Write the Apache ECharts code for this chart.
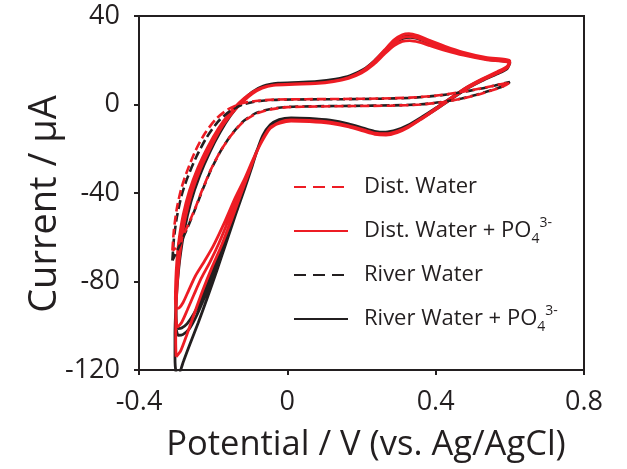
<!DOCTYPE html>
<html><head><meta charset="utf-8">
<script src="https://cdn.jsdelivr.net/npm/echarts@6/dist/echarts.min.js"></script>
<style>html,body{margin:0;padding:0;background:#fff}#c{width:627px;height:469px}</style>
</head><body><div id="c"></div>
<script>
// ---- tick labels / names ----
const xTickLabels = ['-0.4', '0', '0.4', '0.8'];
const yTickLabels = ['-120', '-80', '-40', '0', '40'];
const xAxisTitle = 'Potential / V (vs. Ag/AgCl)';
const yAxisTitle = 'Current / \u03bcA';
const legendOrder = ['Dist. Water', 'Dist. Water + PO4', 'River Water', 'River Water + PO4'];

// ---- Dist. Water + PO4 (red solid), three scans [potential V, current uA] ----
const distPO4Scan1 = [
  [-0.300,-114],[-0.301,-107],[-0.301,-98],[-0.299,-88],[-0.295,-77],[-0.288,-65],[-0.276,-52],[-0.258,-40],[-0.234,-29],[-0.207,-19.5],[-0.180,-11],[-0.153,-4.5],[-0.126,0.6],[-0.100,4.6],[-0.072,7.3],[-0.035,8.8],[0.020,9.2],[0.075,9.5],[0.125,10.5],[0.165,12.2],[0.200,14.9],[0.232,19.2],[0.262,24.6],[0.288,29.2],[0.310,31.5],[0.328,32],[0.352,31.1],[0.385,28.9],[0.425,26.3],[0.475,23.6],[0.535,21.3],[0.600,19.7],
  [0.593,17.3],[0.566,14.8],[0.526,11.6],[0.486,8.0],[0.446,3.5],[0.406,-1.1],[0.366,-5.7],[0.326,-9.9],[0.296,-12.1],[0.266,-13.2],[0.236,-12.9],[0.206,-11.5],[0.166,-9.6],[0.116,-8.0],[0.060,-7.2],[0.010,-7.0],[-0.020,-7.9],
  [-0.045,-10.5],[-0.068,-16.5],[-0.090,-24],[-0.110,-32],[-0.132,-41],[-0.158,-52],[-0.184,-62.5],[-0.208,-71],[-0.232,-78.5],[-0.252,-86],[-0.270,-93],[-0.285,-98.5],[-0.296,-100.5]
];
const distPO4Scan2 = [
  [-0.300,-97],[-0.301,-89],[-0.299,-80],[-0.294,-70],[-0.285,-59],[-0.271,-47],[-0.252,-36],[-0.228,-26],[-0.201,-17],[-0.174,-9.5],[-0.147,-3.5],[-0.120,1.2],[-0.094,4.9],[-0.068,7.4],[-0.032,8.9],[0.020,9.3],[0.075,9.6],[0.125,10.6],[0.165,12.2],[0.200,14.7],[0.232,18.7],[0.262,23.8],[0.288,28],[0.310,30.2],[0.330,30.7],[0.354,29.9],[0.385,27.9],[0.425,25.5],[0.475,23.0],[0.535,20.8],[0.600,19.2],
  [0.593,16.9],[0.566,14.4],[0.526,11.3],[0.486,7.7],[0.446,3.2],[0.406,-1.4],[0.366,-5.9],[0.326,-10.2],[0.296,-12.5],[0.266,-13.6],[0.236,-13.3],[0.206,-11.9],[0.166,-9.9],[0.116,-8.3],[0.060,-7.5],[0.010,-7.3],[-0.020,-8.2],
  [-0.046,-10.8],[-0.070,-17],[-0.093,-25],[-0.115,-33.5],[-0.140,-42],[-0.170,-53.5],[-0.200,-64],[-0.226,-71.5],[-0.248,-77.5],[-0.266,-84],[-0.281,-89.5],[-0.292,-92],[-0.299,-92.2]
];
const distPO4Scan3 = [
  [-0.302,-88],[-0.301,-80],[-0.298,-71],[-0.292,-61],[-0.281,-50],[-0.264,-39],[-0.241,-28.5],[-0.214,-19],[-0.186,-10.8],[-0.158,-4.3],[-0.130,0.8],[-0.103,4.6],[-0.075,7.2],[-0.038,8.7],[0.020,9.1],[0.075,9.4],[0.125,10.3],[0.165,11.8],[0.200,14.2],[0.232,18],[0.262,22.8],[0.288,26.6],[0.310,28.5],[0.330,28.9],[0.355,28.2],[0.385,26.6],[0.425,24.5],[0.475,22.3],[0.535,20.3],[0.600,18.8],
  [0.593,16.5],[0.566,14.1],[0.526,11.0],[0.486,7.4],[0.446,3.0],[0.406,-1.6],[0.366,-6.1],[0.326,-10.4],[0.296,-12.7],[0.266,-13.8],[0.236,-13.5],[0.206,-12.1],[0.166,-10.1],[0.116,-8.5],[0.060,-7.7],[0.010,-7.5],[-0.020,-8.4],
  [-0.045,-10.2],[-0.066,-15.5],[-0.085,-22.5],[-0.103,-30.5],[-0.124,-40],[-0.150,-52],[-0.177,-63.5],[-0.203,-73.5],[-0.228,-84],[-0.252,-95],[-0.272,-104.5],[-0.288,-111.5],[-0.300,-114]
];

// ---- River Water + PO4 (black solid), three scans ----
const riverPO4Scan1 = [
  [-0.295,-101.3],[-0.299,-99],[-0.300,-92],[-0.298,-84],[-0.294,-75],[-0.287,-65],[-0.275,-53],[-0.257,-41],[-0.233,-30],[-0.206,-20],[-0.178,-11],[-0.150,-4],[-0.122,1.5],[-0.095,5.6],[-0.065,8.3],[-0.025,9.6],[0.030,10.0],[0.080,10.4],[0.130,11.5],[0.170,13.1],[0.205,15.8],[0.235,19.8],[0.265,24.8],[0.290,28.8],[0.312,30.6],[0.330,30.9],[0.355,29.9],[0.390,27.7],[0.430,25.3],[0.480,22.8],[0.540,20.7],[0.600,19.1],
  [0.592,16.7],[0.565,14.4],[0.525,11.3],[0.485,7.8],[0.445,3.4],[0.405,-1.1],[0.365,-5.4],[0.325,-9.4],[0.295,-11.5],[0.265,-12.5],[0.235,-12.1],[0.205,-10.7],[0.165,-8.7],[0.115,-7.1],[0.060,-6.3],[0.010,-6.0],[-0.022,-6.8],
  [-0.046,-9.2],[-0.066,-14],[-0.082,-21],[-0.097,-29],[-0.115,-38],[-0.140,-50],[-0.165,-62.5],[-0.190,-75],[-0.215,-87],[-0.240,-98.5],[-0.262,-108],[-0.280,-116],[-0.293,-121.5]
];
const riverPO4Scan2 = [
  [-0.300,-121],[-0.303,-114],[-0.303,-104],[-0.301,-93],[-0.297,-82],[-0.290,-70],[-0.278,-57],[-0.260,-44],[-0.236,-32],[-0.209,-21.5],[-0.181,-12.5],[-0.153,-5],[-0.125,0.8],[-0.098,5],[-0.067,7.9],[-0.027,9.3],[0.030,9.8],[0.080,10.2],[0.130,11.3],[0.170,12.9],[0.205,15.5],[0.235,19.4],[0.265,24.2],[0.290,28.1],[0.312,29.9],[0.332,30.3],[0.357,29.4],[0.390,27.3],[0.430,24.9],[0.480,22.5],[0.540,20.4],[0.600,18.8],
  [0.592,16.4],[0.565,14.1],[0.525,11.0],[0.485,7.5],[0.445,3.1],[0.405,-1.4],[0.365,-5.7],[0.325,-9.7],[0.295,-11.8],[0.265,-12.8],[0.235,-12.4],[0.205,-11.0],[0.165,-9.0],[0.115,-7.4],[0.060,-6.6],[0.010,-6.3],[-0.022,-7.1],
  [-0.046,-9.5],[-0.067,-14.8],[-0.084,-22],[-0.100,-30],[-0.119,-39],[-0.145,-51],[-0.171,-63.5],[-0.197,-75.5],[-0.222,-86.5],[-0.245,-95.5],[-0.265,-101.5],[-0.282,-104],[-0.294,-104.3]
];
const riverPO4Scan3 = [
  [-0.299,-102],[-0.301,-95],[-0.300,-86],[-0.296,-76],[-0.289,-66],[-0.277,-54],[-0.259,-42],[-0.235,-31],[-0.208,-21],[-0.180,-12],[-0.152,-4.6],[-0.124,1.1],[-0.097,5.3],[-0.066,8.1],[-0.026,9.5],[0.030,9.9],[0.080,10.3],[0.130,11.4],[0.170,13],[0.205,15.6],[0.235,19.6],[0.265,24.5],[0.290,28.4],[0.312,30.2],[0.331,30.6],[0.356,29.6],[0.390,27.5],[0.430,25.1],[0.480,22.6],[0.540,20.5],[0.600,18.9],
  [0.592,16.1],[0.565,13.8],[0.525,10.7],[0.485,7.2],[0.445,2.8],[0.405,-1.7],[0.365,-6.0],[0.325,-10.0],[0.295,-12.1],[0.265,-13.1],[0.235,-12.7],[0.205,-11.3],[0.165,-9.3],[0.115,-7.7],[0.060,-6.9],[0.010,-6.6],[-0.022,-7.4],
  [-0.047,-9.8],[-0.069,-15.5],[-0.087,-23],[-0.104,-31],[-0.124,-40],[-0.150,-52],[-0.176,-64],[-0.202,-75.5],[-0.227,-86],[-0.250,-94],[-0.270,-99],[-0.285,-101],[-0.295,-101.3]
];

// ---- Dist. Water (red dashed) ----
const distWaterScan = [
  [-0.310,-66],[-0.306,-57],[-0.298,-47],[-0.286,-38],[-0.270,-30],[-0.248,-21],[-0.222,-13],[-0.192,-6.5],[-0.160,-2.2],[-0.125,0.4],[-0.085,1.6],[-0.035,2.2],[0.050,2.4],[0.150,2.5],[0.250,2.7],[0.330,3.1],[0.400,4.0],[0.460,5.4],[0.520,7.2],[0.560,8.6],[0.600,10.0],
  [0.585,8.4],[0.550,6.3],[0.510,4.3],[0.470,2.6],[0.420,1.1],[0.360,0.0],[0.280,-0.5],[0.180,-0.7],[0.080,-0.9],[0.000,-1.2],[-0.045,-2.2],[-0.085,-4.2],[-0.120,-8],[-0.152,-14],[-0.180,-21],[-0.205,-29],[-0.228,-38],[-0.250,-47.5],[-0.272,-56],[-0.292,-62.5],[-0.305,-65.5],[-0.310,-66]
];
// ---- River Water (black dashed) ----
const riverWaterScan = [
  [-0.310,-70.5],[-0.306,-61],[-0.298,-51],[-0.285,-41],[-0.268,-32.5],[-0.245,-23.5],[-0.218,-15],[-0.188,-8],[-0.155,-3],[-0.120,0],[-0.080,1.5],[-0.030,2.1],[0.050,2.3],[0.150,2.4],[0.250,2.6],[0.330,3.0],[0.400,3.9],[0.460,5.3],[0.520,7.1],[0.560,8.6],[0.600,10.2],
  [0.585,8.5],[0.550,6.4],[0.510,4.4],[0.470,2.7],[0.420,1.2],[0.360,0.1],[0.280,-0.4],[0.180,-0.6],[0.080,-0.8],[0.000,-1.1],[-0.045,-2.0],[-0.085,-3.9],[-0.118,-7.5],[-0.150,-13.5],[-0.178,-20.5],[-0.203,-28.5],[-0.226,-37.5],[-0.248,-47],[-0.270,-56],[-0.290,-63.5],[-0.304,-68.5],[-0.310,-70.5]
];

const FONT = 'Open Sans';
const INK = '#231f20';
const RED = '#ed1c24';

const chart = echarts.init(document.getElementById('c'), null, {renderer: 'canvas'});

function lineSeries(name, data, color, dashed) {
  return {
    name: name, type: 'line', data: data, showSymbol: false, symbol: 'none',
    smooth: 0.25, animation: false, clip: true,
    lineStyle: dashed ? {color: color, width: 2.6, type: [9, 4]} : {color: color, width: 2.8},
    itemStyle: {color: color},
    emphasis: {disabled: true}
  };
}

chart.setOption({
  animation: false,
  backgroundColor: '#ffffff',
  grid: {left: 139, right: 43, top: 16, bottom: 99, show: true, borderColor: INK, borderWidth: 2},
  xAxis: {
    type: 'value', min: -0.4, max: 0.8, interval: 0.4,
    axisLine: {show: true, onZero: false, lineStyle: {color: INK, width: 2}},
    axisTick: {show: true, inside: false, length: 5, lineStyle: {color: INK, width: 2}},
    splitLine: {show: false},
    axisLabel: {fontFamily: FONT, fontSize: 27, color: INK, margin: 19,
      formatter: function (v, i) { return xTickLabels[i]; }},
    name: xAxisTitle, nameLocation: 'middle', nameGap: 58, nameMoveOverlap: false,
    nameTextStyle: {fontFamily: FONT, fontSize: 34.5, color: INK, padding: [0, 0, 0, 9]}
  },
  yAxis: {
    type: 'value', min: -120, max: 40, interval: 40,
    axisLine: {show: true, onZero: false, lineStyle: {color: INK, width: 2}},
    axisTick: {show: true, inside: false, length: 5, lineStyle: {color: INK, width: 2}},
    splitLine: {show: false},
    axisLabel: {fontFamily: FONT, fontSize: 27, color: INK, margin: 19,
      formatter: function (v, i) { return yTickLabels[i]; }},
    name: yAxisTitle, nameLocation: 'middle', nameGap: 75, nameMoveOverlap: false,
    nameTextStyle: {fontFamily: FONT, fontSize: 38, color: INK, padding: [0, 22, 0, 0]}
  },
  legend: {
    data: [
      {name: legendOrder[0], lineStyle: {type: [12, 7]}},
      {name: legendOrder[1]},
      {name: legendOrder[2], lineStyle: {type: [12, 7]}},
      {name: legendOrder[3]}
    ],
    orient: 'vertical', left: 293, top: 176, padding: 0,
    itemGap: 18, itemWidth: 54, itemHeight: 14, selectedMode: false,
    itemStyle: {opacity: 0, borderWidth: 0},
    textStyle: {
      fontFamily: FONT, fontSize: 22, color: INK, padding: [0, 0, 0, 11],
      rich: {
        a: {fontFamily: FONT, fontSize: 22, lineHeight: 30, color: INK},
        sub: {fontFamily: FONT, fontSize: 14, lineHeight: 14, verticalAlign: 'bottom', color: INK},
        sup: {fontFamily: FONT, fontSize: 14, lineHeight: 18, verticalAlign: 'top', color: INK}
      }
    },
    formatter: function (name) {
      if (name.indexOf('PO4') >= 0) {
        return '{a|' + name.replace('PO4', 'PO') + '}{sub|4}{sup|3-}';
      }
      return '{a|' + name + '}';
    }
  },
  series: [
    lineSeries('River Water + PO4', riverPO4Scan1.concat(riverPO4Scan2, riverPO4Scan3), INK, false),
    lineSeries('Dist. Water + PO4', distPO4Scan1.concat(distPO4Scan2, distPO4Scan3), RED, false),
    lineSeries('River Water', riverWaterScan, INK, true),
    lineSeries('Dist. Water', distWaterScan, RED, true)
  ]
});
</script>
</body></html>
